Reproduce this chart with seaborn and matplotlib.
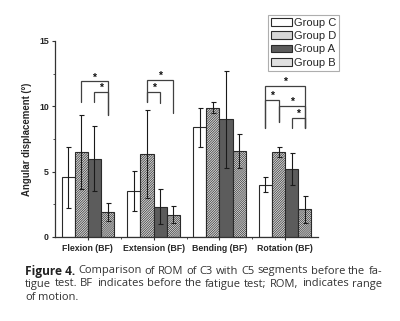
import numpy as np
import pandas as pd
import matplotlib
matplotlib.use("Agg")
import matplotlib.pyplot as plt
import seaborn as sns

# ---- data -------------------------------------------------------------
motions = ["Flexion (BF)", "Extension (BF)", "Bending (BF)", "Rotation (BF)"]
groups = ["Group C", "Group D", "Group A", "Group B"]

mean_c = [4.55, 3.5, 8.4, 4.0]
mean_d = [6.5, 6.35, 9.9, 6.5]
mean_a = [6.0, 2.3, 9.0, 5.2]
mean_b = [1.9, 1.7, 6.6, 2.1]

sd_c = [2.3, 1.55, 1.5, 0.55]
sd_d = [2.85, 3.4, 0.4, 0.4]
sd_a = [2.5, 1.35, 3.7, 1.25]
sd_b = [0.7, 0.65, 1.3, 1.0]

# significance brackets: (motion index, group i, group j, top, left leg end, right leg end)
brackets = [
    (0, 1, 3, 11.9, 10.35, 9.35),
    (0, 2, 3, 11.1, 10.3, 9.35),
    (1, 1, 3, 12.0, 10.35, 9.5),
    (1, 1, 2, 11.1, 10.35, 10.25),
    (3, 0, 3, 11.58, 8.3, 8.3),
    (3, 0, 1, 10.48, 8.3, 8.8),
    (3, 1, 3, 10.05, 8.8, 8.3),
    (3, 2, 3, 9.13, 8.32, 8.32),
]

caption_bold = "Figure 4."
caption_lines = [
    "Comparison of ROM of C3 with C5 segments before the fa-",
    "tigue test. BF indicates before the fatigue test; ROM, indicates range",
    "of motion.",
]

# ---- table ------------------------------------------------------------
means = [mean_c, mean_d, mean_a, mean_b]
sds = [sd_c, sd_d, sd_a, sd_b]
df = pd.DataFrame({
    "motion": np.repeat([motions], len(groups), axis=0).ravel(),
    "group": np.repeat(groups, len(motions)),
    "value": np.concatenate(means),
    "sd": np.concatenate(sds),
})

# ---- style ------------------------------------------------------------
sns.set_style("ticks")
plt.rcParams["font.family"] = ["Liberation Sans", "DejaVu Sans"]
plt.rcParams["hatch.linewidth"] = 0.45
plt.rcParams["hatch.color"] = "#7a7a7a"

fills = {"Group C": "#ffffff", "Group D": "#d6d6d6", "Group A": "#5c5c5c", "Group B": "#e0e0e0"}
hatches = {"Group C": "", "Group D": "/" * 14, "Group A": "", "Group B": "/" * 16}
edge = "#2a2a2a"

fig = plt.figure(figsize=(4.0, 3.21), dpi=100)
ax = fig.add_axes([0.1375, 0.262, 0.6575, 0.6105])

sns.barplot(data=df, x="motion", y="value", hue="group", order=motions,
            hue_order=groups, palette=fills, errorbar=None, width=0.8,
            edgecolor=edge, linewidth=0.8, ax=ax, legend=True)

bar_sets = list(ax.containers)

# bar centres, [group, motion]
centres = np.array([[p.get_x() + p.get_width() / 2 for p in cont.patches]
                    for cont in bar_sets])

# hatching and error bars per group
for gi, (cont, g) in enumerate(zip(bar_sets, groups)):
    for p in cont.patches:
        p.set_hatch(hatches[g])
    ax.errorbar(centres[gi], means[gi], yerr=sds[gi], fmt="none", ecolor="#1a1a1a",
                elinewidth=0.8, capsize=1.8, capthick=0.8, zorder=5)

bcol = "#404040"
for m, i, j, top, yl, yr in brackets:
    x1, x2 = centres[i, m], centres[j, m]
    ax.plot([x1, x1, x2, x2], [yl, top, top, yr], color=bcol, lw=0.9,
            solid_joinstyle="miter", zorder=6)
    ax.text((x1 + x2) / 2, top + 0.3, "*", ha="center", va="center",
            fontsize=7.5, fontweight="bold", color="#111111", zorder=7)

# axes
ax.set_xlim(-0.5, 3.5)
ax.set_ylim(0, 15)
ax.set_yticks([0, 5, 10, 15])
ax.set_yticks([2.5, 7.5, 12.5], minor=True)
ax.set_xticks([0.5, 1.5, 2.5], minor=True)
ax.set_xlabel("")
ax.set_ylabel("Angular displacement (°)", fontsize=6.9, fontweight="bold", labelpad=5)
for lab in ax.get_xticklabels() + ax.get_yticklabels():
    lab.set_fontweight("bold")
ax.tick_params(axis="x", which="major", labelsize=6.3, length=2.5, width=0.8,
               color="#333333", pad=2.5)
ax.tick_params(axis="y", which="major", labelsize=6.3, length=2.5, width=0.8,
               color="#333333", pad=2)
ax.tick_params(axis="both", which="minor", length=1.5, width=0.6, color="#333333")
sns.despine(ax=ax)
for s in ("left", "bottom"):
    ax.spines[s].set_linewidth(0.9)
    ax.spines[s].set_color("#333333")

# legend
handles, labels = ax.get_legend_handles_labels()
if ax.legend_ is not None:
    ax.legend_.remove()
leg = fig.legend(handles, labels, loc="upper left",
                 bbox_to_anchor=(268 / 400, 1 - 15 / 321), bbox_transform=fig.transFigure,
                 fontsize=8, frameon=True, fancybox=False, edgecolor="#9a9a9a",
                 handlelength=1.9, handleheight=0.65, handletextpad=0.15,
                 labelspacing=0.3, borderpad=0.25, borderaxespad=0)
leg.get_frame().set_linewidth(0.8)

# caption, justified to a fixed width
fig.canvas.draw()
rend = fig.canvas.get_renderer()
W, H = fig.bbox.width, fig.bbox.height
x_left, x_right = 25.0, 382.0
cap_ys = [271, 284, 297]
cap_family = "Open Sans"
bold_size = 8.6


def raw_width(s, size, **kw):
    t = fig.text(0, 0, s, fontsize=size, family=cap_family, **kw)
    w = t.get_window_extent(rend).width
    t.remove()
    return w


def text_width(s, size, **kw):
    # remove the constant extent padding that a single string carries
    pad = 2 * raw_width("n", size, **kw) - raw_width("nn", size, **kw)
    return raw_width(s, size, **kw) - pad


# regular size chosen so the words of the second line leave ~3.3 px per gap
probe = 8.0
words2 = caption_lines[1].split(" ")
words_w = sum(text_width(w, probe) for w in words2)
cap_size = probe * (x_right - x_left - 3.3 * (len(words2) - 1)) / words_w
space_w = text_width("n n", cap_size) - text_width("nn", cap_size)

for li, (line, yp) in enumerate(zip(caption_lines, cap_ys)):
    y = 1 - yp / H
    items = []
    if li == 0:
        items.append((caption_bold, bold_size, dict(fontweight="bold", color="#222222")))
    items += [(w, cap_size, dict(color="#333333")) for w in line.split(" ")]
    widths = [text_width(s, sz, **kw) for s, sz, kw in items]
    last = li == len(caption_lines) - 1
    gap = space_w if last else (x_right - x_left - sum(widths)) / (len(items) - 1)
    gap = max(gap, 1.5)
    x = x_left
    for (s, sz, kw), w in zip(items, widths):
        fig.text(x / W, y, s, fontsize=sz, family=cap_family,
                 va="center", ha="left", **kw)
        x += w + gap

fig.savefig("out.png", dpi=100)
